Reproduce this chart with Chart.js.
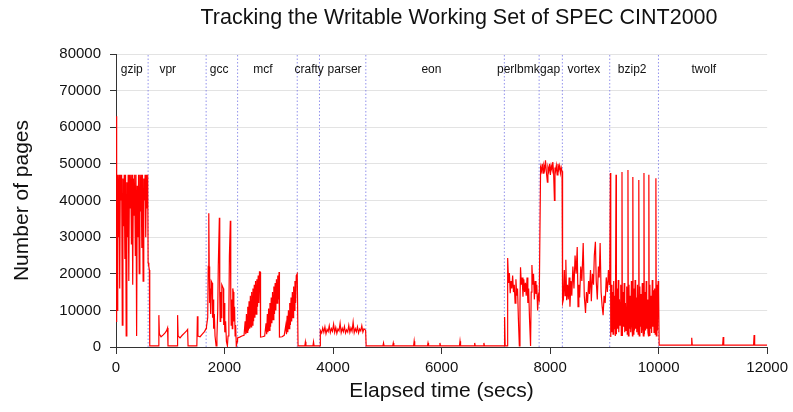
<!DOCTYPE html>
<html>
<head>
<meta charset="utf-8">
<script src="https://cdn.jsdelivr.net/npm/chart.js@4.4.0/dist/chart.umd.min.js"></script>
<style>
  html, body { margin: 0; padding: 0; background: #fff; }
  #wrap { width: 793px; height: 412px; }
</style>
</head>
<body>
<div id="wrap"><canvas id="wssChart" width="793" height="412"></canvas></div>
<script>
// Benchmarks, in run order
const benchNames = ['gzip', 'vpr', 'gcc', 'mcf', 'crafty', 'parser', 'eon', 'perlbmk', 'gap', 'vortex', 'bzip2', 'twolf'];
// where each name sits (secs) and the dotted boundaries between runs
const labelTimes = [291, 953, 1900, 2706, 3560, 4213, 5813, 7414, 8000, 8623, 9513, 10833];
const boundaries = [592, 1661, 2241, 3340, 3750, 4604, 7157, 7798, 8226, 9099, 9997];
const labelLevel = 75800;

// [elapsed secs, pages], one array per benchmark
const gzipTrace = [[0, 7000], [8, 63000], [16, 48000], [24, 10000], [32, 47000], [44, 30000], [56, 47000], [68, 16000],
  [80, 47000], [92, 40000], [104, 47000], [116, 6000], [128, 46000], [140, 33000], [152, 47000], [164, 24000],
  [176, 47000], [188, 3000], [200, 45000], [212, 30000], [224, 47000], [236, 18000], [248, 47000], [260, 38000],
  [272, 47000], [284, 28000], [296, 47000], [308, 17000], [320, 46000], [332, 36000], [344, 47000], [356, 25000],
  [368, 47000], [380, 3000], [392, 44000], [404, 30000], [416, 47000], [428, 20000], [440, 47000], [452, 37000],
  [464, 47000], [476, 27000], [488, 47000], [500, 18000], [512, 46000], [524, 40000], [536, 47000], [548, 30000],
  [560, 47000], [572, 38000], [584, 47000], [592, 23000], [605, 22000], [615, 21000]];
const vprTrace = [[622, 300], [780, 300], [790, 8700], [800, 3500], [830, 2800], [870, 3300], [900, 3800], [930, 4400],
  [950, 5200], [958, 300], [1125, 300], [1135, 8700], [1145, 3000], [1180, 2500], [1220, 3200], [1260, 3800],
  [1300, 4400], [1320, 4800], [1328, 300], [1490, 300], [1500, 8400], [1510, 3000], [1550, 2800], [1590, 3500],
  [1630, 4200], [1660, 5000]];
const gccTrace = [[1667, 5500], [1690, 8000], [1700, 22000], [1710, 36500], [1718, 22000], [1726, 12000], [1735, 16000],
  [1745, 9000], [1755, 18000], [1771, 17500], [1780, 8000], [1790, 13000], [1800, 5000], [1812, 9000], [1825, 3000],
  [1845, 300], [1860, 2500], [1875, 10000], [1885, 22000], [1905, 35300], [1912, 14000], [1920, 7000], [1930, 15000],
  [1940, 8000], [1950, 17000], [1978, 16000], [1985, 6000], [1995, 12000], [2005, 4000], [2020, 7000], [2035, 1500],
  [2053, 300], [2065, 3000], [2080, 9000], [2090, 25000], [2107, 34500], [2115, 14000], [2123, 6000], [2133, 13000],
  [2143, 5000], [2152, 16000], [2162, 15000], [2172, 7000], [2185, 11000], [2195, 3000], [2205, 6000], [2217, 300],
  [2235, 1500]];
const mcfTrace = [[2240, 2500], [2280, 2700], [2320, 3000], [2360, 3200],
  [2380, 7000], [2392, 3500], [2404, 9000], [2416, 4000], [2428, 11000], [2440, 4500], [2452, 12500], [2464, 5000],
  [2476, 14000], [2488, 5500], [2500, 15000], [2512, 6000], [2524, 16000], [2536, 7000], [2548, 17000], [2560, 8000],
  [2572, 18000], [2584, 9000], [2596, 18500], [2608, 11000], [2620, 19500], [2632, 12000], [2644, 20500], [2656, 20500],
  [2664, 2700], [2700, 2800], [2740, 3000],
  [2765, 6500], [2777, 3500], [2789, 9000], [2801, 4000], [2813, 10500], [2825, 4500], [2837, 12000], [2849, 5500],
  [2861, 13500], [2873, 6500], [2885, 15000], [2897, 7500], [2909, 16500], [2921, 9000], [2933, 17500], [2945, 10000],
  [2957, 18500], [2969, 12000], [2981, 19500], [2993, 13000], [3005, 20500], [3012, 2700], [3060, 2800], [3100, 3200],
  [3130, 6000], [3142, 3500], [3154, 8500], [3166, 4000], [3178, 10000], [3190, 5000], [3202, 12000], [3214, 6000],
  [3226, 13500], [3238, 7000], [3250, 15000], [3262, 8000], [3274, 16500], [3286, 10000], [3298, 18000], [3310, 12000],
  [3322, 19500], [3340, 20000]];
const craftyTrace = [[3355, 300], [3480, 300], [3490, 1400], [3500, 300], [3630, 300], [3640, 1400], [3650, 300], [3760, 300]];
const parserTrace = [[3766, 4500], [3790, 3800], [3810, 5200], [3830, 4000], [3850, 5500], [3870, 3600], [3890, 4800],
  [3910, 4200], [3930, 5800], [3950, 3900], [3970, 5000], [3990, 4300], [4010, 6200], [4030, 4000], [4050, 5300],
  [4070, 3700], [4090, 4900], [4110, 4400], [4130, 6500], [4150, 3900], [4170, 5100], [4190, 4200], [4210, 5600],
  [4230, 3800], [4250, 4700], [4270, 4100], [4290, 5900], [4310, 4000], [4330, 5200], [4350, 4300], [4370, 6800],
  [4390, 3900], [4410, 5000], [4430, 4200], [4450, 5500], [4470, 3800], [4490, 4900], [4510, 4400], [4530, 5800],
  [4550, 4100], [4570, 5000], [4600, 4600]];
const eonTrace = [[4610, 300], [4920, 300], [4930, 1100], [4940, 300], [5100, 300], [5110, 1100], [5120, 300],
  [5485, 300], [5495, 1600], [5505, 300], [5740, 300], [5750, 1100], [5760, 300], [5960, 300], [5970, 1100], [5980, 300],
  [6330, 300], [6340, 1600], [6350, 300], [6600, 300], [6610, 1100], [6620, 300], [6770, 300], [6780, 1100], [6790, 300],
  [7150, 300]];
const perlbmkTrace = [[7155, 300], [7162, 8200], [7172, 300], [7210, 300], [7218, 24300], [7235, 17500], [7250, 20200],
  [7265, 14700], [7280, 18000], [7295, 16000], [7310, 19500], [7325, 15000], [7340, 17000], [7355, 12000], [7370, 18500],
  [7385, 14000], [7400, 16000], [7415, 8000], [7433, 300], [7445, 12000], [7455, 21800], [7470, 17000], [7485, 19000],
  [7500, 13700], [7515, 18500], [7530, 15000], [7545, 17500], [7560, 14000], [7575, 19000], [7590, 12000], [7605, 16000],
  [7620, 8000], [7640, 300], [7652, 15000], [7665, 22400], [7680, 17000], [7695, 20000], [7710, 13000], [7725, 18000],
  [7740, 14500], [7755, 17000], [7770, 10000], [7785, 14000], [7800, 13000], [7812, 13000]];
const gapTrace = [[7825, 49000], [7840, 48000], [7855, 50000], [7870, 47500], [7885, 49500], [7900, 48500], [7915, 51000],
  [7930, 48000], [7950, 45000], [7960, 49000], [7975, 48000], [7990, 50000], [8005, 47000], [8020, 49500], [8035, 48500],
  [8050, 50500], [8065, 47500], [8080, 40000], [8090, 49000], [8100, 48000], [8115, 49500], [8130, 47000], [8145, 50000],
  [8160, 48500], [8175, 49500], [8190, 47500], [8205, 49000], [8220, 48000]];
const vortexTrace = [[8230, 12000], [8245, 13000], [8262, 21000], [8275, 14000], [8290, 23800], [8305, 12800],
  [8320, 17000], [8335, 13000], [8350, 19000], [8366, 11000], [8385, 18000], [8400, 14000], [8420, 22000], [8440, 16000],
  [8460, 25000], [8480, 20000], [8500, 27300], [8515, 11000], [8530, 17000], [8545, 13500], [8565, 22000], [8585, 18000],
  [8610, 28400], [8630, 14000], [8653, 9300], [8670, 15000], [8690, 12000], [8710, 18000], [8725, 14500], [8745, 21000],
  [8760, 12500], [8780, 20000], [8800, 17000], [8815, 25000], [8835, 28700], [8850, 18000], [8870, 13000], [8890, 22000],
  [8905, 19000], [8922, 28400], [8940, 15000], [8960, 11000], [8977, 8700], [8995, 14000], [9015, 12000], [9035, 19000],
  [9055, 15000], [9075, 21000], [9090, 17000], [9100, 22000]];
const bzip2Trace = [[9111, 47500], [9118, 2700], [9130, 17000], [9140, 4000], [9150, 15000], [9160, 3500], [9172, 18000],
  [9182, 5000], [9192, 14000], [9202, 3000], [9215, 47000], [9222, 3500], [9234, 16000], [9244, 5000], [9256, 18300],
  [9266, 4000], [9278, 13000], [9290, 6000], [9302, 17000], [9312, 3200], [9325, 47800], [9332, 3000], [9344, 15000],
  [9354, 5500], [9366, 17500], [9376, 4000], [9388, 12000], [9400, 4500], [9412, 16500], [9422, 3500], [9435, 48300],
  [9442, 3000], [9454, 17000], [9464, 5000], [9476, 14000], [9486, 4000], [9498, 18000], [9508, 6000], [9518, 3000],
  [9525, 46400], [9532, 3500], [9544, 16000], [9554, 4500], [9566, 18300], [9576, 5000], [9588, 13500], [9598, 4000],
  [9610, 17000], [9622, 3500], [9635, 45600], [9642, 3000], [9654, 16500], [9664, 5500], [9676, 14500], [9686, 3800],
  [9698, 17500], [9708, 5000], [9718, 3000], [9730, 47500], [9737, 3500], [9749, 15000], [9759, 4500], [9771, 18000],
  [9781, 5000], [9793, 13000], [9803, 4000], [9813, 3000], [9820, 47000], [9827, 3200], [9839, 17000], [9849, 5000],
  [9861, 14000], [9871, 3800], [9883, 18300], [9893, 5500], [9905, 15500], [9915, 4000], [9927, 16000], [9937, 3500],
  [9950, 46100], [9957, 3000], [9969, 17000], [9979, 4500], [9991, 18000], [10000, 15000]];
const twolfTrace = [[10010, 500], [10600, 500], [10610, 2500], [10620, 500], [11180, 500], [11190, 2700], [11200, 500],
  [11750, 500], [11760, 3300], [11770, 500], [12000, 500]];

const xTicksMax = 12000;
const yTicksMax = 80000;
const titleText = 'Tracking the Writable Working Set of SPEC CINT2000';

const FONT = '"Liberation Sans", Arial, Helvetica, sans-serif';
Chart.defaults.font.family = FONT;
Chart.defaults.color = '#111';

const trace = [].concat(gzipTrace, vprTrace, gccTrace, mcfTrace, craftyTrace, parserTrace, eonTrace,
  perlbmkTrace, gapTrace, vortexTrace, bzip2Trace, twolfTrace).map(p => ({ x: p[0], y: p[1] }));

// each boundary is a vertical segment, nulls break them apart
const boundaryPoints = [];
boundaries.forEach(b => {
  boundaryPoints.push({ x: b, y: 0 }, { x: b, y: yTicksMax }, { x: b, y: null });
});

// benchmark names along the top + the chart title (sits a bit right of centre)
const benchLabels = {
  id: 'benchLabels',
  afterDatasetsDraw(chart) {
    const { ctx, scales: { x, y } } = chart;
    ctx.save();
    ctx.font = '12px ' + FONT;
    ctx.fillStyle = '#111';
    ctx.textAlign = 'center';
    ctx.textBaseline = 'middle';
    benchNames.forEach((name, i) => {
      ctx.fillText(name, x.getPixelForValue(labelTimes[i]), y.getPixelForValue(labelLevel));
    });
    ctx.font = '21.5px ' + FONT;
    ctx.fillText(titleText, 459, 18);
    ctx.restore();
  }
};

const ctx = document.getElementById('wssChart');
new Chart(ctx, {
  type: 'line',
  data: {
    datasets: [{
      label: 'pages',
      data: trace,
      borderColor: '#ff0000',
      borderWidth: 1.2,
      pointRadius: 0,
      tension: 0,
      order: 0
    }, {
      label: 'boundaries',
      data: boundaryPoints,
      borderColor: 'rgba(110,110,230,0.75)',
      borderWidth: 1,
      borderDash: [1.5, 2],
      pointRadius: 0,
      spanGaps: false,
      order: 1
    }]
  },
  options: {
    responsive: false,
    animation: false,
    layout: { padding: { left: 0, right: 22, top: 54, bottom: 0 } },
    plugins: {
      legend: { display: false },
      tooltip: { enabled: false },
      title: { display: false }
    },
    scales: {
      x: {
        type: 'linear',
        min: 0,
        max: xTicksMax,
        ticks: { stepSize: 2000, font: { size: 15 }, padding: 5, maxRotation: 0, callback: v => String(v) },
        grid: { drawOnChartArea: false, tickLength: 7, tickColor: '#333' },
        border: { color: '#333' },
        title: { display: true, text: 'Elapsed time (secs)', font: { size: 21 }, padding: { top: 0, bottom: 8 } },
        afterFit: s => { s.height = 65; }
      },
      y: {
        min: 0,
        max: yTicksMax,
        ticks: { stepSize: 10000, font: { size: 15 }, padding: 9, callback: v => String(v) },
        grid: { color: '#e3e3e3', tickLength: 6, tickColor: '#333' },
        border: { color: '#333' },
        title: { display: true, text: 'Number of pages', font: { size: 21 }, padding: { top: 10, bottom: 0 } },
        afterFit: s => { s.width = 116; }
      }
    }
  },
  plugins: [benchLabels]
});
</script>
</body>
</html>
